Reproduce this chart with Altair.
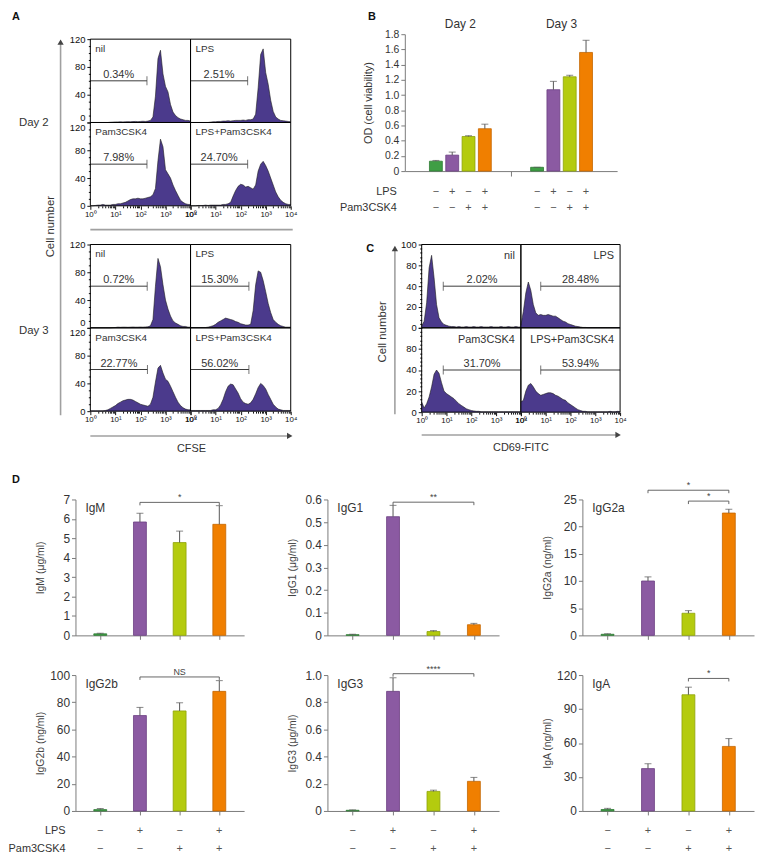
import altair as alt
import pandas as pd

FONT = "Liberation Sans"
TXT = "#333333"
AXC = "#7a7a7a"
HFILL = "#4b3a8c"
HLINE = "#1c1c1c"
GRAYLINE = "#a0a0a0"

# ---------------- shared categories ----------------
conds = ["nil", "LPS", "Pam3CSK4", "LPS+Pam3CSK4"]
lps_flag = [False, True, False, True]
pam_flag = [False, False, True, True]
bar_fill = ["#3f9e45", "#8b5aa2", "#b4cb0e", "#f07f00"]
bar_edge = ["#2e7a34", "#6b3f82", "#8fa30a", "#c46600"]

# ---------------- A: CFSE histograms (41 bins on log10 scale 0..4) ----------------
log_bins = [i / 10 for i in range(41)]
a_day2_nil = [0, 0, 0, 0, 0, 0, 0, 0, 0.3, 0.5,
              0.8, 0.8, 1, 0.8, 1, 1.2, 1, 1.3, 1.5, 1.2,
              1.5, 1.8, 1.5, 2, 3, 8, 38, 92, 104, 70,
              52, 44, 26, 15, 10, 7, 5, 4, 3, 3, 2]
a_day2_lps = [0, 0, 0, 0, 0, 0, 0, 0, 0.5, 1,
              1, 1.5, 1.5, 2, 2, 2.5, 2, 2.5, 3, 3,
              3, 3.5, 3, 4, 4, 5, 12, 50, 98, 106,
              72, 55, 32, 16, 8, 5, 3, 2.5, 2, 1.5, 1]
a_day2_pam = [0, 0, 0.5, 1, 1, 2, 1, 1, 1, 2,
              2, 3, 3, 4, 5, 7, 9, 10, 10, 11,
              10, 10, 11, 12, 13, 16, 25, 65, 96, 85,
              52, 46, 40, 30, 22, 15, 8, 5, 3, 2, 2]
a_day2_both = [0, 0, 0, 0.5, 0.5, 0.5, 1, 0.5, 1, 1,
               1, 1, 1, 2, 2, 3, 5, 14, 22, 28,
               31, 30, 27, 28, 26, 24, 30, 50, 60, 64,
               58, 50, 40, 30, 20, 13, 8, 5, 3, 2, 2]
a_day3_nil = [0, 0, 0, 0, 0, 0, 0, 0, 0, 0.3,
              0.5, 1, 0.8, 1, 1, 0.8, 1, 1.2, 1, 1,
              1.2, 1, 1.3, 1.5, 3, 12, 60, 100, 88, 62,
              40, 27, 17, 10, 7, 5, 3, 2, 2, 1, 1]
a_day3_lps = [0.5, 0.5, 0.5, 0.5, 0.5, 0.5, 0.5, 1, 2, 3,
              5, 8, 10, 12, 14, 13, 12, 11, 9, 8,
              6, 5, 4, 4, 5, 25, 62, 82, 80, 68,
              52, 35, 22, 12, 8, 5, 3, 2, 1, 1, 1]
a_day3_pam = [0.5, 0.5, 0.5, 0.5, 0.5, 0.5, 1, 2, 4, 6,
              8, 11, 13, 15, 16, 17, 17, 16, 14, 12,
              10, 9, 8, 7, 10, 20, 42, 62, 66, 55,
              46, 43, 36, 28, 20, 13, 8, 5, 3, 2, 2]
a_day3_both = [1, 1, 1, 1, 1, 1, 1, 1, 1, 2,
               2, 4, 9, 17, 28, 36, 39, 38, 32, 26,
               18, 13, 11, 10, 12, 17, 25, 34, 40, 37,
               32, 24, 17, 10, 6, 3, 2, 1, 1, 1, 1]
a_day2_pct = ["0.34%", "2.51%", "7.98%", "24.70%"]
a_day3_pct = ["0.72%", "15.30%", "22.77%", "56.02%"]
a_day2_gate_end = [2.26, 2.28, 2.26, 2.28]
a_day3_gate_end = [2.27, 2.33, 2.28, 2.33]
a_gate_level = 60

# ---------------- C: CD69-FITC histograms ----------------
c_nil = [2, 8, 30, 72, 87, 60, 28, 12, 7, 4,
         3, 2, 1.5, 1.5, 1, 1.5, 1, 1, 1.5, 1,
         1, 1.5, 1, 1, 1.5, 1, 1, 1, 1.5, 1,
         1, 1, 1.5, 1, 1, 1.5, 1, 1, 1.5, 1, 1]
c_lps = [3, 20, 42, 55, 45, 28, 18, 15, 16, 15,
         15, 16, 15, 14, 14, 12, 10, 8, 7, 5,
         4, 3, 2, 1.5, 1, 0.5, 0.5, 0.3, 0.3, 0.3,
         0.3, 0.3, 0.3, 0.3, 0.3, 0.3, 0.3, 0.3, 0.3, 0.3, 0.3]
c_pam = [12, 5, 10, 18, 30, 45, 50, 46, 35, 25,
         22, 20, 18, 16, 13, 10, 8, 6, 4, 3,
         2, 1.5, 1, 1, 0.5, 0.5, 0.5, 0.5, 0.5, 0.5,
         0.5, 0.5, 0.5, 0.5, 0.5, 0.5, 0.5, 0.5, 0.5, 0.5, 0.5]
c_both = [12, 14, 25, 32, 34, 30, 25, 22, 20, 21,
          22, 23, 23, 22, 20, 19, 17, 15, 14, 11,
          9, 7, 5, 3, 2, 1, 1, 0.5, 0.5, 0.5,
          0.5, 0.5, 0.5, 0.5, 0.5, 0.5, 1, 0.5, 0.5, 1, 0.5]
c_pct = ["2.02%", "28.48%", "31.70%", "53.94%"]
c_gate_start = [0.87, 0.8, 0.87, 0.8]
c_gate_level = 50

# ---------------- B: OD (cell viability) ----------------
b_days = ["Day 2", "Day 3"]
b_day2 = [0.13, 0.21, 0.455, 0.557]
b_day2_err = [0.01, 0.04, 0.01, 0.06]
b_day3 = [0.05, 1.07, 1.24, 1.56]
b_day3_err = [0.0, 0.11, 0.02, 0.16]

# ---------------- D: immunoglobulins ----------------
igm_vals = [0.08, 5.84, 4.78, 5.72]
igm_err = [0.03, 0.45, 0.59, 0.96]
igg1_vals = [0.003, 0.524, 0.017, 0.047]
igg1_err = [0.002, 0.05, 0.004, 0.006]
igg2a_vals = [0.2, 10.0, 4.07, 22.5]
igg2a_err = [0.1, 0.76, 0.48, 0.7]
igg2b_vals = [1.0, 70.2, 73.6, 88.0]
igg2b_err = [0.8, 6.0, 6.0, 7.9]
igg3_vals = [0.005, 0.88, 0.144, 0.218]
igg3_err = [0.003, 0.10, 0.009, 0.029]
iga_vals = [1.3, 37.4, 102.6, 57.0]
iga_err = [1.0, 4.3, 6.7, 6.9]
igm_br = [(1, 3, 6.85, "*")]
igg1_br = [(1, 3, 0.588, "**")]
igg2a_br = [(1, 3, 26.7, "*"), (2, 3, 24.7, "*")]
igg2b_br = [(1, 3, 98.6, "NS")]
igg3_br = [(1, 3, 1.01, "****")]
iga_br = [(2, 3, 117, "*")]

D_SPEC = {
    "IgM": dict(vals=igm_vals, errs=igm_err, ymax=7, step=1, fmt="d", unit="μg/ml", br=igm_br),
    "IgG1": dict(vals=igg1_vals, errs=igg1_err, ymax=0.6, step=0.1, fmt=".1f", unit="μg/ml", br=igg1_br),
    "IgG2a": dict(vals=igg2a_vals, errs=igg2a_err, ymax=25, step=5, fmt="d", unit="ng/ml", br=igg2a_br),
    "IgG2b": dict(vals=igg2b_vals, errs=igg2b_err, ymax=100, step=20, fmt="d", unit="ng/ml", br=igg2b_br),
    "IgG3": dict(vals=igg3_vals, errs=igg3_err, ymax=1.0, step=0.2, fmt=".1f", unit="μg/ml", br=igg3_br),
    "IgA": dict(vals=iga_vals, errs=iga_err, ymax=120, step=30, fmt="d", unit="ng/ml", br=iga_br),
}

one = pd.DataFrame({"k": [0]})


def dtext(txt, x, y, size=11, bold=False, align="left", angle=0, color=TXT, baseline="middle"):
    kw = dict(text=txt, fontSize=size, align=align, baseline=baseline, color=color)
    if bold:
        kw["fontWeight"] = "bold"
    if angle:
        kw["angle"] = angle
    return alt.Chart(one).mark_text(**kw).encode(x=alt.value(x), y=alt.value(y))


def dline(x1, x2, y1, y2, color=GRAYLINE, width=1.6):
    return alt.Chart(one).mark_rule(color=color, strokeWidth=width).encode(
        x=alt.value(x1), x2=alt.value(x2), y=alt.value(y1), y2=alt.value(y2))


def darrow(x, y, shape):
    return alt.Chart(one).mark_point(shape=shape, filled=True, size=40, color="#444", opacity=1).encode(
        x=alt.value(x), y=alt.value(y))


def dframe(w, h):
    return alt.Chart(one).mark_rect(fillOpacity=0, stroke="#000", strokeWidth=1).encode(
        x=alt.value(0), x2=alt.value(w), y=alt.value(0), y2=alt.value(h))


def spacer(w=1, h=1):
    return alt.Chart(one).mark_point(opacity=0, size=1).encode(
        x=alt.X("k:Q", axis=None), y=alt.Y("k:Q", axis=None)).properties(width=w, height=h)


# ---------------- histogram axes ----------------
HX_VALS = [m * 10 ** k for k in range(4) for m in range(1, 10)] + [10000]
MAJ_X = "indexof([1, 10, 100, 1000, 10000], datum.value) >= 0"
LOGLAB = ("datum.value == 1 ? '10⁰' : datum.value == 10 ? '10¹' : datum.value == 100 ? '10²' : "
          "datum.value == 1000 ? '10³' : datum.value == 10000 ? '10⁴' : ''")


def hx_axis(h):
    return alt.Axis(values=HX_VALS, labelExpr=LOGLAB,
                    tickSize={"condition": {"test": MAJ_X, "value": 3.5}, "value": 2},
                    domain=False, grid=False, labelFontSize=8, labelColor="#111",
                    tickColor="#111", labelPadding=1, labelFlush=False, labelOverlap=False,
                    offset=h - 1)


def hy_axis(vals, major, expr, baseline):
    return alt.Axis(values=vals, labelExpr=expr,
                    tickSize={"condition": {"test": major, "value": 3.5}, "value": 2},
                    domain=False, grid=False, labelFontSize=9.5, labelColor="#111",
                    tickColor="#111", labelPadding=2, labelBaseline=baseline,
                    labelOverlap=False, labelFlush=False)


A_YV = list(range(0, 121, 10))
A_MAJ = "datum.value % 40 == 0"
A_LAB = "datum.value % 40 == 0 ? datum.label : ''"
ay_top = hy_axis(A_YV, A_MAJ, A_LAB,
                 {"condition": {"test": "datum.value == 0", "value": "bottom"}, "value": "middle"})
ay_bot = hy_axis(A_YV, A_MAJ, A_LAB,
                 {"condition": {"test": "datum.value == 120", "value": "top"}, "value": "middle"})
C_YV = list(range(0, 101, 5))
C_MAJ = "datum.value % 25 == 0"
C_LAB_TOP = ("datum.value == 0 ? '0' : datum.value == 25 ? '20' : datum.value == 50 ? '40' : "
             "datum.value == 75 ? '80' : datum.value == 100 ? '100' : ''")
C_LAB_BOT = ("datum.value == 0 ? '0' : datum.value == 25 ? '20' : datum.value == 50 ? '40' : "
             "datum.value == 75 ? '80' : ''")
cy_top = hy_axis(C_YV, C_MAJ, C_LAB_TOP, "middle")
cy_bot = hy_axis(C_YV, C_MAJ, C_LAB_BOT, "middle")


def hist(counts, name, pct, lo, hi, tick_at, level, ymax, w, h, show_x, yaxis, name_right, extra=()):
    """Panel drawn in a 1x1 grid cell; its scales span w x h pixels from the cell corner."""
    df = pd.DataFrame({"v": [10 ** b for b in log_bins], "c": counts})
    xs = alt.Scale(type="log", domain=[1, 10000], range=[0, w], nice=False)
    ys = alt.Scale(domain=[0, ymax], range=[h, 0], nice=False, zero=True)
    xaxis = hx_axis(h) if show_x else None

    def X(f):
        return alt.X(f, type="quantitative", scale=xs, axis=xaxis, title=None)

    def Y(f):
        return alt.Y(f, type="quantitative", scale=ys, axis=yaxis, title=None)

    area = alt.Chart(df).mark_area(color=HFILL, opacity=1,
                                   line={"color": HLINE, "strokeWidth": 0.6}).encode(x=X("v"), y=Y("c"))
    g = pd.DataFrame({"x1": [10 ** lo], "x2": [10 ** hi], "xt": [10 ** tick_at],
                      "xm": [10 ** ((lo + hi) / 2)], "y": [level], "lab": [pct]})
    rule = alt.Chart(g).mark_rule(color="#3a3a3a", strokeWidth=1).encode(
        x=X("x1"), x2=alt.X2("x2"), y=Y("y"))
    tick = alt.Chart(g).mark_tick(orient="vertical", size=9, thickness=1, color="#3a3a3a").encode(
        x=X("xt"), y=Y("y"))
    lab = alt.Chart(g).mark_text(fontSize=11, color=TXT, baseline="bottom", dy=-1).encode(
        x=X("xm"), y=Y("y"), text="lab:N")
    if name_right:
        nm = dtext(name, w - 6, 12, 11, align="right")
    else:
        nm = dtext(name, 5, 10, 10)
    return alt.layer(area, rule, tick, lab, nm, dframe(w, h), *extra).properties(width=1, height=1)


# ---------------- Panel A ----------------
a_decor = [
    dtext("A", -79, -22, 11, bold=True, color="#111"),
    dtext("Day 2", -72, 85, 11.5),
    dtext("Day 3", -72, 294, 11.5),
    dline(-30, -30, 3, 379),
    darrow(-30, 3, "triangle-up"),
    dtext("Cell number", -40, 189, 11.5, align="center", angle=270),
    dline(0, 204, 192, 192),
    dline(0, 200, 400, 400),
    darrow(201, 400, "triangle-right"),
    dtext("CFSE", 102, 413, 11, align="center"),
]

AW, AH = 101, 84
a_sets = [([a_day2_nil, a_day2_lps, a_day2_pam, a_day2_both], a_day2_pct, a_day2_gate_end),
          ([a_day3_nil, a_day3_lps, a_day3_pam, a_day3_both], a_day3_pct, a_day3_gate_end)]
A = []
for di, (counts, pcts, ends) in enumerate(a_sets):
    panels = []
    for i in range(4):
        bottom = i >= 2
        left = i % 2 == 0
        ya = (ay_bot if bottom else ay_top) if left else None
        extra = a_decor if (di == 0 and i == 0) else ()
        panels.append(hist(counts[i], conds[i], pcts[i], 0, ends[i], ends[i], a_gate_level, 120,
                           AW, AH, bottom, ya, False, extra))
    A.append(panels)

# ---------------- Panel C ----------------
c_decor = [
    dtext("C", -56, 5, 11, bold=True, color="#111"),
    dtext("Cell number", -39, 88, 11.5, align="center", angle=270),
    dline(-27, -27, 4, 171),
    darrow(-27, 4, "triangle-up"),
    dline(0, 197, 192, 192),
    darrow(198, 192, "triangle-right"),
    dtext("CD69-FITC", 100, 205, 11, align="center"),
]
c_counts = [c_nil, c_lps, c_pam, c_both]
C = []
for i in range(4):
    bottom = i >= 2
    left = i % 2 == 0
    ya = (cy_bot if bottom else cy_top) if left else None
    extra = c_decor if i == 0 else ()
    C.append(hist(c_counts[i], conds[i], c_pct[i], c_gate_start[i], 4, c_gate_start[i],
                  c_gate_level, 100, 100, 85 if bottom else 84, bottom, ya, True, extra))

# ---------------- Panel B ----------------
B_GROUP_STEP = 6.2
BW, BH = 214, 138


def color_scales():
    return (alt.Color("cond:N", scale=alt.Scale(domain=conds, range=bar_fill), legend=None),
            alt.Stroke("cond:N", scale=alt.Scale(domain=conds, range=bar_edge), legend=None))


def b_panel():
    rows = []
    for di, (vals, errs) in enumerate([(b_day2, b_day2_err), (b_day3, b_day3_err)]):
        for ci, c in enumerate(conds):
            rows.append(dict(pos=di * B_GROUP_STEP + ci, cond=c, val=vals[ci], top=vals[ci] + errs[ci],
                             ls="+" if lps_flag[ci] else "−", ps="+" if pam_flag[ci] else "−"))
    df = pd.DataFrame(rows)
    days = pd.DataFrame({"pos": [di * B_GROUP_STEP + 1.5 for di in range(len(b_days))], "day": b_days})
    xs = alt.Scale(domain=[-1.6, 3 + B_GROUP_STEP + 1.6], range=[0, BW], nice=False, zero=False)
    ys = alt.Scale(domain=[0, 1.8], range=[BH, 0], nice=False, zero=True)
    xa = alt.Axis(values=[(3 + B_GROUP_STEP) / 2], labels=False, tickSize=5, tickColor=AXC,
                  domainColor=AXC, grid=False, offset=BH - 1)
    ya = alt.Axis(values=[round(0.2 * i, 1) for i in range(10)],
                  labelExpr="datum.value == 0 ? '0' : format(datum.value, '.1f')",
                  tickSize=4, tickColor=AXC, domainColor=AXC, grid=False, labelFontSize=10.5,
                  labelColor=TXT, labelPadding=2, titleFontSize=11, titleFontWeight="normal",
                  titleColor=TXT, labelFlush=False, titleX=-37, titleY=BH / 2,
                  titleBaseline="middle", titleAlign="center")

    def X(f):
        return alt.X(f, type="quantitative", scale=xs, axis=xa, title=None)

    def Y(f):
        return alt.Y(f, type="quantitative", scale=ys, axis=ya, title="OD (cell viability)")

    col, stk = color_scales()
    bars = alt.Chart(df).mark_bar(size=13, strokeWidth=0.8).encode(x=X("pos"), y=Y("val"), color=col, stroke=stk)
    err = alt.Chart(df).mark_rule(color="#555", strokeWidth=1).encode(x=X("pos"), y=Y("val"), y2=alt.Y2("top"))
    cap = alt.Chart(df).mark_tick(orient="horizontal", size=7, thickness=1, color="#555").encode(
        x=X("pos"), y=Y("top"))
    s1 = alt.Chart(df).mark_text(fontSize=11, color="#555").encode(x=X("pos"), y=alt.value(BH + 21), text="ls:N")
    s2 = alt.Chart(df).mark_text(fontSize=11, color="#555").encode(x=X("pos"), y=alt.value(BH + 37), text="ps:N")
    dl = alt.Chart(days).mark_text(fontSize=12, color=TXT).encode(x=X("pos"), y=alt.value(-10), text="day:N")
    return alt.layer(
        bars, err, cap, s1, s2, dl,
        dtext("LPS", -8, BH + 21, 11, align="right"),
        dtext("Pam3CSK4", -8, BH + 37, 11, align="right"),
        dtext("B", -37, -17, 11, bold=True, color="#111"),
    ).properties(width=1, height=1)


# ---------------- Panel D ----------------
def d_panel(name, w, h, bottom, extra=()):
    s = D_SPEC[name]
    df = pd.DataFrame({"i": list(range(4)), "cond": conds, "val": s["vals"],
                       "top": [v + e for v, e in zip(s["vals"], s["errs"])],
                       "ls": ["+" if f else "−" for f in lps_flag],
                       "ps": ["+" if f else "−" for f in pam_flag]})
    nstep = int(round(s["ymax"] / s["step"]))
    yvals = [round(s["step"] * k, 2) for k in range(nstep + 1)]
    xs = alt.Scale(domain=[-0.5, 3.5], range=[0, w], nice=False, zero=False)
    ys = alt.Scale(domain=[0, s["ymax"]], range=[h, 0], nice=False, zero=True)
    xa = alt.Axis(values=[0, 1, 2, 3], labels=False, tickSize=4, tickColor=AXC, domainColor=AXC,
                  grid=False, offset=h - 1)
    ya = alt.Axis(values=yvals,
                  labelExpr="datum.value == 0 ? '0' : format(datum.value, '%s')" % s["fmt"],
                  tickSize=4, tickColor=AXC, domainColor=AXC, grid=False, labelFontSize=12,
                  labelColor=TXT, labelPadding=2, titleFontSize=10.5, titleFontWeight="normal",
                  titleColor="#444", labelFlush=False, titleX=-35, titleY=h / 2,
                  titleBaseline="middle", titleAlign="center")
    title = "%s (%s)" % (name, s["unit"])

    def X(f):
        return alt.X(f, type="quantitative", scale=xs, axis=xa, title=None)

    def Y(f):
        return alt.Y(f, type="quantitative", scale=ys, axis=ya, title=title)

    col, stk = color_scales()
    bars = alt.Chart(df).mark_bar(size=13, strokeWidth=0.8).encode(x=X("i"), y=Y("val"), color=col, stroke=stk)
    err = alt.Chart(df).mark_rule(color="#555", strokeWidth=1).encode(x=X("i"), y=Y("val"), y2=alt.Y2("top"))
    cap = alt.Chart(df).mark_tick(orient="horizontal", size=7, thickness=1, color="#555").encode(
        x=X("i"), y=Y("top"))
    drop = 3.0 * s["ymax"] / h
    pts, labs = [], []
    for bi, (i1, i2, lvl, lab) in enumerate(s["br"]):
        for o, (xx, yy) in enumerate([(i1, lvl - drop), (i1, lvl), (i2, lvl), (i2, lvl - drop)]):
            pts.append(dict(id=bi, o=o, x=xx, y=yy))
        labs.append(dict(x=(i1 + i2) / 2, y=lvl, lab=lab))
    br = alt.Chart(pd.DataFrame(pts)).mark_line(color="#555", strokeWidth=0.9).encode(
        x=X("x"), y=Y("y"), detail="id:N", order="o:Q")
    bl = alt.Chart(pd.DataFrame(labs)).mark_text(fontSize=9, color="#444", baseline="bottom", dy=0).encode(
        x=X("x"), y=Y("y"), text="lab:N")
    layers = [bars, err, cap, br, bl, dtext(name, 10, 9, 12)]
    if bottom:
        layers.append(alt.Chart(df).mark_text(fontSize=11, color="#555").encode(
            x=X("i"), y=alt.value(h + 20), text="ls:N"))
        layers.append(alt.Chart(df).mark_text(fontSize=11, color="#555").encode(
            x=X("i"), y=alt.value(h + 38), text="ps:N"))
    layers.extend(extra)
    return alt.layer(*layers).properties(width=1, height=1)


# ---------------- absolute grid layout ----------------
DH = 137
COL_W = [15, 101, 138, 78, 17, 100, 62, 175]
ROW_H = [5, 84, 123, 84, 173, 177, 137]
placed = {
    (0, 4): b_panel(),
    (1, 1): A[0][0], (1, 2): A[0][1],
    (2, 1): A[0][2], (2, 2): A[0][3],
    (3, 1): A[1][0], (3, 2): A[1][1], (3, 5): C[0], (3, 6): C[1],
    (4, 1): A[1][2], (4, 2): A[1][3], (4, 5): C[2], (4, 6): C[3],
    (5, 0): d_panel("IgM", 170, DH, False, [dtext("D", -64, -20, 11, bold=True, color="#111")]),
    (5, 3): d_panel("IgG1", 173, DH, False),
    (5, 7): d_panel("IgG2a", 173, DH, False),
    (6, 0): d_panel("IgG2b", 170, DH, True, [dtext("LPS", -10, DH + 20, 11, align="right"),
                                             dtext("Pam3CSK4", -10, DH + 38, 11, align="right")]),
    (6, 3): d_panel("IgG3", 173, DH, True),
    (6, 7): d_panel("IgA", 173, DH, True),
}
cells = []
for r, rh in enumerate(ROW_H):
    for c, cw in enumerate(COL_W):
        cells.append(placed.get((r, c), spacer(cw, rh)))

chart = alt.concat(*cells, columns=len(COL_W), spacing=0, bounds="flush", align="each",
                   padding=0).configure(
    font=FONT, background="white").configure_view(stroke=None).configure_axis(
    labelFont=FONT, titleFont=FONT).configure_text(font=FONT)

chart.save("out.html", embed_options={"renderer": "svg", "actions": False})
